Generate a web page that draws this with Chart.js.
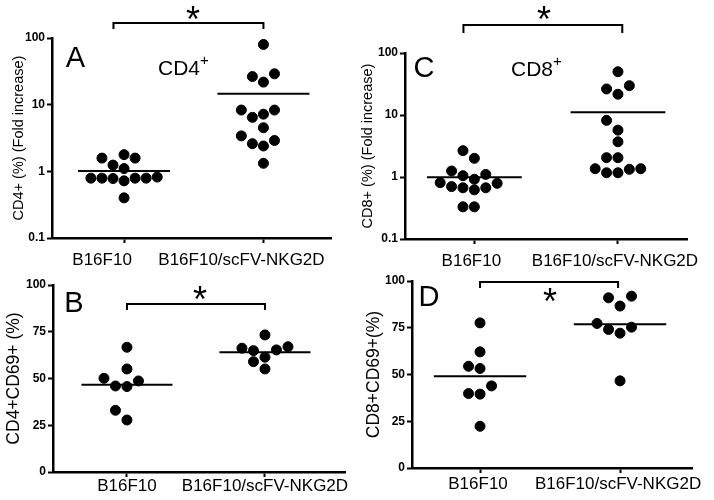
<!DOCTYPE html>
<html>
<head>
<meta charset="utf-8">
<script src="https://cdn.jsdelivr.net/npm/chart.js@4.4.1/dist/chart.umd.min.js"></script>
<style>
  html, body { margin: 0; padding: 0; background: #fff; }
  #fig { position: relative; width: 714px; height: 500px; overflow: hidden; }
  #fig canvas { position: absolute; }
</style>
</head>
<body>
<div id="fig"></div>
<script>
// groups on the x axis
var groups = ['B16F10', 'B16F10/scFV-NKG2D'];

// A: CD4+ (%) fold increase
var cd4Control = [1.58, 1.58, 1.78, 1.24, 1.1, 0.79, 0.79, 0.78, 0.72, 0.79, 0.79, 0.82, 0.4];
var cd4Nkg2d = [80, 29, 26.4, 21.8, 8.3, 8.3, 7.2, 6.45, 4.5, 3.4, 2.9, 2.6, 2.4, 1.32];

// C: CD8+ (%) fold increase
var cd8Control = [2.66, 2.0, 1.25, 1.1, 1.05, 0.92, 0.81, 0.79, 0.7, 0.67, 0.67, 0.62, 0.33, 0.33];
var cd8Nkg2d = [49.9, 29.7, 26.3, 21.6, 8.2, 5.7, 3.7, 2.05, 2.05, 1.36, 1.36, 1.33, 1.17, 1.17];

// B: CD4+CD69+ (%)
var cd4cd69Control = [66.7, 55.1, 50.1, 48.7, 46.0, 45.7, 33.0, 27.8];
var cd4cd69Nkg2d = [73.3, 67.0, 66.2, 65.3, 64.9, 61.4, 59.0, 55.1];

// D: CD8+CD69+ (%)
var cd8cd69Control = [77.6, 62.1, 54.4, 53.2, 43.9, 39.8, 39.5, 22.3];
var cd8cd69Nkg2d = [91.9, 91.0, 86.6, 77.3, 75.3, 74.1, 72.1, 46.6];

var logTicks = [0.1, 1, 10, 100];
var pctTicks = [0, 25, 50, 75, 100];

var FONT = '"Liberation Sans", Arial, sans-serif';
var DOT_GAP = 10.5;   // px, two dots closer than this overlap
var SLOT = 11.5;      // px between swarm columns
var MEAN_HALF = 0.33; // half width of the mean bar, x units

Chart.defaults.color = '#000';
Chart.defaults.font.family = FONT;

// spread the dots of one column sideways so they do not overlap
function swarm(values, center, toPx, slotWidth) {
    var placed = [];
    return values.slice().sort(function (a, b) { return a - b; }).map(function (v) {
        var py = toPx(v);
        for (var k = 0; ; k++) {
            var slot = k === 0 ? 0 : (k % 2 ? -Math.ceil(k / 2) : k / 2);
            var hit = placed.some(function (p) {
                return p.slot === slot && Math.abs(p.py - py) < DOT_GAP;
            });
            if (!hit) {
                placed.push({ slot: slot, py: py });
                return { x: center + slot * slotWidth, y: v };
            }
        }
    });
}

function mean(values) {
    return values.reduce(function (s, v) { return s + v; }, 0) / values.length;
}

// bracket, star, panel letter and subtitle
var notesPlugin = {
    id: 'panelNotes',
    afterDraw: function (chart, args, o) {
        var ctx = chart.ctx, xs = chart.scales.x;
        ctx.save();
        ctx.strokeStyle = '#000';
        ctx.fillStyle = '#000';
        ctx.lineWidth = 2;

        var x1 = xs.getPixelForValue(o.bracket[0]);
        var x2 = xs.getPixelForValue(o.bracket[1]);
        ctx.beginPath();
        ctx.moveTo(x1, o.bracketY + o.leg);
        ctx.lineTo(x1, o.bracketY);
        ctx.lineTo(x2, o.bracketY);
        ctx.lineTo(x2, o.bracketY + o.leg);
        ctx.stroke();

        ctx.textAlign = 'center';
        ctx.textBaseline = 'alphabetic';
        function centered(text, size, x, y) {
            ctx.font = size + 'px ' + FONT;
            var m = ctx.measureText(text);
            ctx.fillText(text, x, y + (m.actualBoundingBoxAscent - m.actualBoundingBoxDescent) / 2);
        }
        centered('*', 36, o.star[0], o.star[1]);
        centered(o.letter, 29, o.letterAt[0], o.letterAt[1]);

        ctx.textAlign = 'left';
        ctx.font = '21px ' + FONT;
        ctx.fillText(o.subtitle, o.subAt[0], o.subAt[1]);
        var w = ctx.measureText(o.subtitle).width;
        ctx.font = '15px ' + FONT;
        ctx.fillText('+', o.subAt[0] + w, o.subAt[1] - 10);
        ctx.restore();
    }
};

var panels = [
    {
        id: 'A', left: 0, top: 0, w: 357, h: 275,
        area: { left: 52, right: 343, top: 38, bottom: 238 },
        xMin: 0.483, xMax: 2.49, log: true,
        series: [cd4Control, cd4Nkg2d],
        title: 'CD4+ (%) (Fold increase)', titleSize: 14.5, titlePad: 9.8,
        xPad: 7, xShift: -22,
        notes: { bracket: [0.924, 2.0], bracketY: 23, leg: 6, star: [193, 13],
                 letter: 'A', letterAt: [75.5, 57], subtitle: 'CD4', subAt: [158, 75] }
    },
    {
        id: 'C', left: 357, top: 0, w: 357, h: 275,
        area: { left: 48, right: 333, top: 53, bottom: 239 },
        xMin: 0.517, xMax: 2.483, log: true,
        series: [cd8Control, cd8Nkg2d],
        title: 'CD8+ (%) (Fold increase)', titleSize: 14.5, titlePad: 2.3,
        xPad: 7, xShift: -3,
        notes: { bracket: [0.924, 2.03], bracketY: 25, leg: 8, star: [187, 13],
                 letter: 'C', letterAt: [67, 66.5], subtitle: 'CD8', subAt: [154, 76] }
    },
    {
        id: 'B', left: 0, top: 260, w: 357, h: 240,
        area: { left: 53, right: 345, top: 25, bottom: 212 },
        xMin: 0.464, xMax: 2.58, log: false,
        series: [cd4cd69Control, cd4cd69Nkg2d],
        title: 'CD4+CD69+ (%)', titleSize: 17.5, titlePad: 3.5,
        xPad: -1, xShift: 0,
        notes: { bracket: [1, 2], bracketY: 44, leg: 6, star: [200, 33],
                 letter: 'B', letterAt: [74, 42], subtitle: '', subAt: [0, 0] }
    },
    {
        id: 'D', left: 357, top: 260, w: 357, h: 240,
        area: { left: 55, right: 335, top: 21, bottom: 208 },
        xMin: 0.514, xMax: 2.514, log: false,
        series: [cd8cd69Control, cd8cd69Nkg2d],
        title: 'CD8+CD69+(%)', titleSize: 17.5, titlePad: 6.5,
        xPad: 1, xShift: -2,
        notes: { bracket: [1, 1.986], bracketY: 22, leg: 6, star: [193, 35],
                 letter: 'D', letterAt: [72, 36], subtitle: '', subAt: [0, 0] }
    }
];

panels.forEach(function (p) {
    var canvas = document.createElement('canvas');
    canvas.width = p.w;
    canvas.height = p.h;
    canvas.style.left = p.left + 'px';
    canvas.style.top = p.top + 'px';
    canvas.style.width = p.w + 'px';
    canvas.style.height = p.h + 'px';
    document.getElementById('fig').appendChild(canvas);

    var a = p.area;
    var pxPerX = (a.right - a.left) / (p.xMax - p.xMin);
    var toPx = p.log
        ? function (v) { return Math.log10(v) * (a.bottom - a.top) / 3; }
        : function (v) { return v * (a.bottom - a.top) / 100; };

    var datasets = [];
    p.series.forEach(function (values, i) {
        var c = i + 1, m = mean(values);
        datasets.push({
            data: swarm(values, c, toPx, SLOT / pxPerX),
            pointRadius: 5,
            pointBorderWidth: 1,
            pointBackgroundColor: '#000',
            pointBorderColor: '#000'
        });
        datasets.push({
            data: [{ x: c - MEAN_HALF, y: m }, { x: c + MEAN_HALF, y: m }],
            showLine: true,
            borderColor: '#000',
            borderWidth: 2,
            pointRadius: 0
        });
    });

    var yTicks = p.log ? logTicks : pctTicks;

    new Chart(canvas, {
        type: 'scatter',
        data: { datasets: datasets },
        options: {
            responsive: false,
            animation: false,
            layout: { padding: { top: a.top, right: p.w - a.right, left: 0, bottom: 0 } },
            plugins: {
                legend: { display: false },
                tooltip: { enabled: false },
                panelNotes: p.notes
            },
            scales: {
                x: {
                    type: 'linear',
                    min: p.xMin,
                    max: p.xMax,
                    afterBuildTicks: function (s) { s.ticks = [{ value: 1 }, { value: 2 }]; },
                    afterFit: function (s) { s.height = p.h - a.bottom; },
                    ticks: {
                        callback: function (v) { return groups[v - 1]; },
                        font: { size: 17 },
                        padding: p.xPad,
                        labelOffset: p.xShift,
                        maxRotation: 0,
                        autoSkip: false
                    },
                    grid: { drawOnChartArea: false, tickLength: 5, tickWidth: 2, tickColor: '#000' },
                    border: { color: '#000', width: 2.5 }
                },
                y: {
                    type: p.log ? 'logarithmic' : 'linear',
                    min: yTicks[0],
                    max: yTicks[yTicks.length - 1],
                    afterBuildTicks: function (s) {
                        s.ticks = yTicks.map(function (v) { return { value: v }; });
                    },
                    afterFit: function (s) { s.width = a.left; },
                    ticks: {
                        callback: function (v) { return String(v); },
                        font: { size: 12, weight: 'bold', lineHeight: 1 },
                        padding: 2
                    },
                    title: {
                        display: true,
                        text: p.title,
                        font: { size: p.titleSize },
                        padding: { top: p.titlePad, bottom: 0 }
                    },
                    grid: { drawOnChartArea: false, tickLength: 5, tickWidth: 2, tickColor: '#000' },
                    border: { color: '#000', width: 2.5 }
                }
            }
        },
        plugins: [notesPlugin]
    });
});
</script>
</body>
</html>
